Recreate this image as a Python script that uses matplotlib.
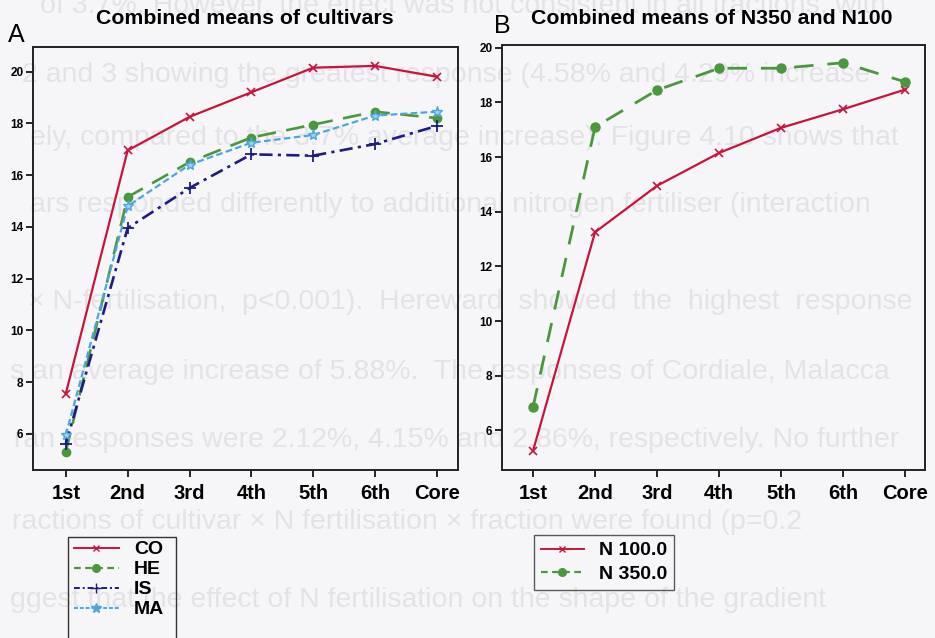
import matplotlib
matplotlib.use("Agg")
import matplotlib.pyplot as plt
from matplotlib.lines import Line2D
from matplotlib.patches import Rectangle

plt.rcParams["font.family"] = ["Liberation Sans", "DejaVu Sans"]

# ---- data ----
fractions = ["1st", "2nd", "3rd", "4th", "5th", "6th", "Core"]

co = [7.55, 16.95, 18.25, 19.2, 20.15, 20.22, 19.8]
he = [5.3, 15.15, 16.5, 17.45, 17.95, 18.45, 18.2]
is_ = [5.6, 13.95, 15.5, 16.8, 16.75, 17.2, 17.9]
ma = [5.95, 14.8, 16.4, 17.25, 17.55, 18.3, 18.45]

n100 = [5.25, 13.25, 14.95, 16.15, 17.07, 17.75, 18.47]
n350 = [6.85, 17.1, 18.45, 19.25, 19.25, 19.45, 18.75]

cultivar_labels = ["CO", "HE", "IS", "MA"]
nitrogen_labels = ["N 100.0", "N 350.0"]

title_a = "Combined means of cultivars"
title_b = "Combined means of N350 and N100"

# page text behind the figure
page_lines = [
    "of 3.7%. However, the effect was not consistent in all fractions, with",
    "2 and 3 showing the greatest response (4.58% and 4.29% increase",
    "ely, compared to the 3.7% average increase). Figure 4.10 shows that",
    "ars responded differently to additional nitrogen fertiliser (interaction",
    "× N-fertilisation,  p<0.001).  Hereward  showed  the  highest  response",
    "s an average increase of 5.88%.  The responses of Cordiale, Malacca",
    "ran responses were 2.12%, 4.15% and 2.86%, respectively. No further",
    "ractions of cultivar × N fertilisation × fraction were found (p=0.2",
    "ggest that the effect of N fertilisation on the shape of the gradient",
]

# ---- styles ----
RED = "#c8143c"
GREEN = "#4a983c"
NAVY = "#1c1c84"
SKY = "#4aa6de"
BG = "#f6f6f8"
PAGE = "#e3e3e7"

W, H = 935, 638
fig = plt.figure(figsize=(W / 100, H / 100), dpi=100, facecolor=BG)

page_y = [5, 75, 138, 205, 302, 372, 440, 522, 600]
page_x = [40, 22, 30, 30, 28, 10, 14, 12, 10]
for txt, py, px in zip(page_lines, page_y, page_x):
    fig.text(px / W, 1 - py / H, txt, fontsize=20.5, color=PAGE,
             va="center", ha="left", zorder=-5)


def style_axes(ax, ylim, xlim):
    ax.set_facecolor("none")
    ax.set_xlim(*xlim)
    ax.set_ylim(*ylim)
    ax.set_xticks(range(len(fractions)))
    ax.set_xticklabels(fractions, fontsize=14.5, fontweight="bold")
    ax.set_yticks(range(6, 21, 2))
    ax.tick_params(axis="y", labelsize=8.5, length=5, width=1.2, pad=2)
    ax.tick_params(axis="x", length=5, width=1.2, pad=5)
    for lab in ax.get_yticklabels():
        lab.set_fontweight("bold")
    for sp in ax.spines.values():
        sp.set_color("#222222")
        sp.set_linewidth(1.4)


x = range(len(fractions))

# ---- panel A ----
axA = fig.add_axes([33 / W, 1 - 470 / H, 425 / W, 423 / H])
style_axes(axA, (4.6, 20.95), (-0.53, 6.34))
axA.plot(x, co, color=RED, lw=1.6, marker="x", ms=6, mew=1.2)
axA.plot(x, he, color=GREEN, lw=1.9, ls=(0, (7, 4)), marker="o", ms=6)
axA.plot(x, is_, color=NAVY, lw=1.9, ls=(0, (5, 2, 1.2, 2)), marker="+", ms=8, mew=1.3)
axA.plot(x, ma, color=SKY, lw=1.6, ls=(0, (3, 1.5)), marker="*", ms=8, mfc="#9fd0f0")

fig.text(245 / W, 1 - 18 / H, title_a, fontsize=15.3, fontweight="bold",
         ha="center", va="center")
fig.text(8 / W, 1 - 35 / H, "A", fontsize=18, ha="left", va="center")

# ---- panel B ----
axB = fig.add_axes([502 / W, 1 - 470 / H, 423 / W, 425 / H])
style_axes(axB, (4.55, 20.1), (-0.5, 6.32))
axB.plot(x, n100, color=RED, lw=1.6, marker="x", ms=6, mew=1.2)
axB.plot(x, n350, color=GREEN, lw=2.0, ls=(0, (7, 5)), marker="o", ms=6.5)

fig.text(712 / W, 1 - 18 / H, title_b, fontsize=15.3, fontweight="bold",
         ha="center", va="center")
fig.text(494 / W, 1 - 26 / H, "B", fontsize=18, ha="left", va="center")

# ---- legends ----
handles_a = [
    Line2D([], [], color=RED, lw=1.4, marker="x", ms=5),
    Line2D([], [], color=GREEN, lw=1.6, ls=(0, (3, 2)), marker="o", ms=5.5),
    Line2D([], [], color=NAVY, lw=1.4, ls=(0, (3, 1.5, 1, 1.5)), marker="+", ms=7),
    Line2D([], [], color=SKY, lw=1.4, ls=(0, (2, 1)), marker="*", ms=7),
]
fig.legend(handles_a, cultivar_labels, loc="upper left",
           bbox_to_anchor=(70 / W, 1 - 537 / H), borderaxespad=0, frameon=False,
           prop={"weight": "bold", "size": 14}, handlelength=2.3,
           handletextpad=0.8, labelspacing=0.12, borderpad=0.2)
fig.add_artist(Rectangle((68 / W, 1 - 660 / H), 108 / W, 123 / H,
                         transform=fig.transFigure, fill=False,
                         ec="#333333", lw=1.0))

handles_b = [
    Line2D([], [], color=RED, lw=1.4, marker="x", ms=5),
    Line2D([], [], color=GREEN, lw=1.6, ls=(0, (3, 2)), marker="o", ms=5.5),
]
fig.legend(handles_b, nitrogen_labels, loc="upper left",
           bbox_to_anchor=(534 / W, 1 - 535 / H), borderaxespad=0,
           frameon=True, fancybox=False,
           edgecolor="#333333", facecolor="none",
           prop={"weight": "bold", "size": 14}, handlelength=2.2,
           handletextpad=0.8, labelspacing=0.3, borderpad=0.35)

fig.savefig("out.png", dpi=100, facecolor=BG)
